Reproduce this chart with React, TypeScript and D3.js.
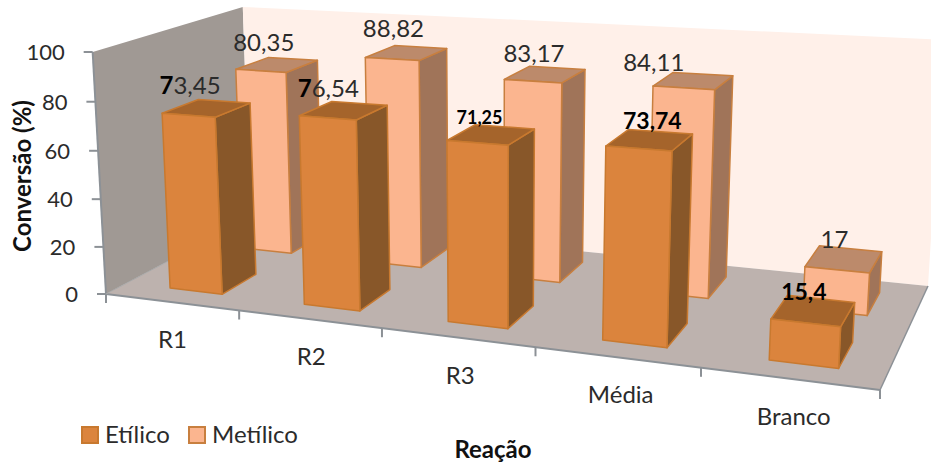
import React from "react";
import * as d3 from "d3";

const categories = ["R1", "R2", "R3", "Média", "Branco"];
const etilico = [73.45, 76.54, 71.25, 73.74, 15.4];
const metilico = [80.35, 88.82, 83.17, 84.11, 17];
const etilicoLabels = ["73,45", "76,54", "71,25", "73,74", "15,4"];
const metilicoLabels = ["80,35", "88,82", "83,17", "84,11", "17"];
const valueTicks = [0, 20, 40, 60, 80, 100];

type Pt = [number, number];

// Floor corners on screen and the point where vertical edges converge.
const FL: Pt = [106, 294];
const FR: Pt = [880, 390];
const BR: Pt = [928, 286];
const BL: Pt = [250, 218];
const VANISH: Pt = [492, 7300];
const FRONT_TOP_Y = 52;

function floorHomography(p0: Pt, p1: Pt, p2: Pt, p3: Pt) {
  const dx1 = p1[0] - p2[0], dx2 = p3[0] - p2[0], sx = p0[0] - p1[0] + p2[0] - p3[0];
  const dy1 = p1[1] - p2[1], dy2 = p3[1] - p2[1], sy = p0[1] - p1[1] + p2[1] - p3[1];
  const den = dx1 * dy2 - dx2 * dy1;
  const g = (sx * dy2 - dx2 * sy) / den;
  const h = (dx1 * sy - sx * dy1) / den;
  return {
    a: p1[0] - p0[0] + g * p1[0], b: p3[0] - p0[0] + h * p3[0], c: p0[0],
    d: p1[1] - p0[1] + g * p1[1], e: p3[1] - p0[1] + h * p3[1], f: p0[1],
    g, h,
  };
}
const H = floorHomography(FL, FR, BR, BL);
// Weight of the vertical direction, fixed by the height of the front-left corner.
const LAMBDA = (FL[1] - FRONT_TOP_Y) / (FRONT_TOP_Y - VANISH[1]);

const uScale = d3.scaleLinear().domain([0, categories.length]).range([0, 1]);
const vScale = d3.scaleLinear().domain([0, 100]).range([0, 1]);

// Project category position, depth (0 front, 1 back) and value to the screen.
function project(cat: number, depth: number, value: number): Pt {
  const u = uScale(cat);
  const t = vScale(value) * LAMBDA;
  const X = H.a * u + H.b * depth + H.c + t * VANISH[0];
  const Y = H.d * u + H.e * depth + H.f + t * VANISH[1];
  const W = H.g * u + H.h * depth + 1 + t;
  return [X / W, Y / W];
}

const poly = (pts: Pt[]) => pts.map((p) => `${p[0].toFixed(1)},${p[1].toFixed(1)}`).join(" ");

const BAR_START = 0.335;
const BAR_END = 0.73;
const DEPTHS = { etilico: [0.13, 0.365], metilico: [0.63, 0.875] };

const palette = {
  etilico: { front: "#DB843D", top: "#A5642B", side: "#885729", stroke: "#C8792F" },
  metilico: { front: "#FBB58F", top: "#BC8A6B", side: "#A07459", stroke: "#C87F3F" },
};

function Bar({ index, value, kind }: { index: number; value: number; kind: "etilico" | "metilico" }) {
  const [d0, d1] = DEPTHS[kind];
  const c = palette[kind];
  const x0 = index + BAR_START, x1 = index + BAR_END;
  const corner = (x: number, d: number, v: number) => project(x, d, v);
  const common = { stroke: c.stroke, strokeWidth: 1.5, strokeLinejoin: "round" as const };
  return (
    <g>
      <polygon points={poly([corner(x1, d0, 0), corner(x1, d1, 0), corner(x1, d1, value), corner(x1, d0, value)])} fill={c.side} {...common} />
      <polygon points={poly([corner(x0, d0, value), corner(x1, d0, value), corner(x1, d1, value), corner(x0, d1, value)])} fill={c.top} {...common} />
      <polygon points={poly([corner(x0, d0, 0), corner(x1, d0, 0), corner(x1, d0, value), corner(x0, d0, value)])} fill={c.front} {...common} />
    </g>
  );
}

const FONT = "Lato, 'Open Sans', sans-serif";
const INK = "#2b2b2b";

// Hand-placed data labels: [dx, dy] from the top of each bar.
const etilicoNudge: Pt[] = [[-34, -7], [-31, -6], [-25, -3], [-8, -3], [-17, 1]];
const metilicoNudge: Pt[] = [[-29, -8], [-27, -10], [-23, -6], [-49, -3], [-16, -1]];

// Label styling per bar of the front series: whole-label bold, or a bold first digit.
const etilicoLabelStyle = [
  { size: 24, bold: false, leadBold: true },
  { size: 24, bold: false, leadBold: true },
  { size: 18, bold: true, leadBold: false },
  { size: 23, bold: true, leadBold: false },
  { size: 23, bold: true, leadBold: false },
];

export default function App() {
  const cats = categories.map((_, i) => i);
  const topCentre = (i: number, kind: "etilico" | "metilico", v: number) =>
    project(i + (BAR_START + BAR_END) / 2, DEPTHS[kind][1], v);
  const topBL = project(0, 1, 100);
  const topBR = project(5, 1, 100);
  const topFL = project(0, 0, 100);
  return (
    <svg width={931} height={466} style={{ position: "absolute", left: 0, top: 0 }} fontFamily={FONT}>
      <rect width={931} height={466} fill="#fff" />
      <polygon points={poly([FL, BL, topBL, topFL])} fill="#A09994" />
      <polygon points={poly([BL, BR, topBR, topBL])} fill="#FFF0E9" />
      <polygon points={poly([FL, FR, BR, BL])} fill="#BDB2AE" />
      <line x1={FL[0]} y1={FL[1]} x2={topFL[0]} y2={topFL[1]} stroke="#8C9196" strokeWidth={2} />
      <line x1={FL[0]} y1={FL[1]} x2={FR[0]} y2={FR[1]} stroke="#8C9196" strokeWidth={2} />
      <line x1={FR[0]} y1={FR[1]} x2={BR[0]} y2={BR[1]} stroke="#8C9196" strokeWidth={1.5} />
      <line x1={FL[0]} y1={FL[1]} x2={BL[0]} y2={BL[1]} stroke="#A8A8A8" strokeWidth={1} />

      {valueTicks.map((t) => {
        const p = project(0, 0, t);
        return (
          <g key={t}>
            <line x1={p[0] - 9} y1={p[1]} x2={p[0]} y2={p[1]} stroke="#8C9196" strokeWidth={2} />
            <text x={p[0] - 28} y={p[1] + 8} textAnchor="end" fontSize={22} fill={INK}>{t}</text>
          </g>
        );
      })}
      {d3.range(0, categories.length + 1).map((i) => {
        const p = project(i, 0, 0);
        return <line key={i} x1={p[0]} y1={p[1]} x2={p[0]} y2={p[1] + 9} stroke="#8C9196" strokeWidth={2} />;
      })}
      {categories.map((c, i) => {
        const p = project(i + 0.5, 0, 0);
        return <text key={c} x={p[0] + 1 + i} y={p[1] + 46} textAnchor="middle" fontSize={24} fill={INK}>{c}</text>;
      })}

      {cats.slice().reverse().map((i) => <Bar key={i} index={i} value={metilico[i]} kind="metilico" />)}
      {cats.slice().reverse().map((i) => <Bar key={i} index={i} value={etilico[i]} kind="etilico" />)}

      {metilicoLabels.map((l, i) => {
        const p = topCentre(i, "metilico", metilico[i]);
        return <text key={l} x={p[0] + metilicoNudge[i][0]} y={p[1] + metilicoNudge[i][1]} textAnchor="middle" fontSize={24} fill={INK}>{l}</text>;
      })}
      {etilicoLabels.map((l, i) => {
        const p = topCentre(i, "etilico", etilico[i]);
        const s = etilicoLabelStyle[i];
        return (
          <text key={l} x={p[0] + etilicoNudge[i][0]} y={p[1] + etilicoNudge[i][1]} textAnchor="middle"
            fontSize={s.size} fontWeight={s.bold ? 700 : 400} fill={s.bold ? "#000" : INK}>
            {s.leadBold ? <><tspan fontWeight={700} fill="#000">{l[0]}</tspan>{l.slice(1)}</> : l}
          </text>
        );
      })}

      <text transform="translate(31,176) rotate(-90)" textAnchor="middle" fontSize={24} fontWeight={700} fill="#111">Conversão (%)</text>
      <text x={493} y={458} textAnchor="middle" fontSize={24} fontWeight={700} fill="#111">Reação</text>

      <rect x={82} y={427} width={16} height={16} fill={palette.etilico.front} stroke={palette.etilico.stroke} strokeWidth={2} />
      <text x={105} y={443} fontSize={24} fill={INK}>Etílico</text>
      <rect x={189} y={427} width={16} height={16} fill={palette.metilico.front} stroke={palette.metilico.stroke} strokeWidth={2} />
      <text x={212} y={443} fontSize={24} fill={INK}>Metílico</text>
    </svg>
  );
}
